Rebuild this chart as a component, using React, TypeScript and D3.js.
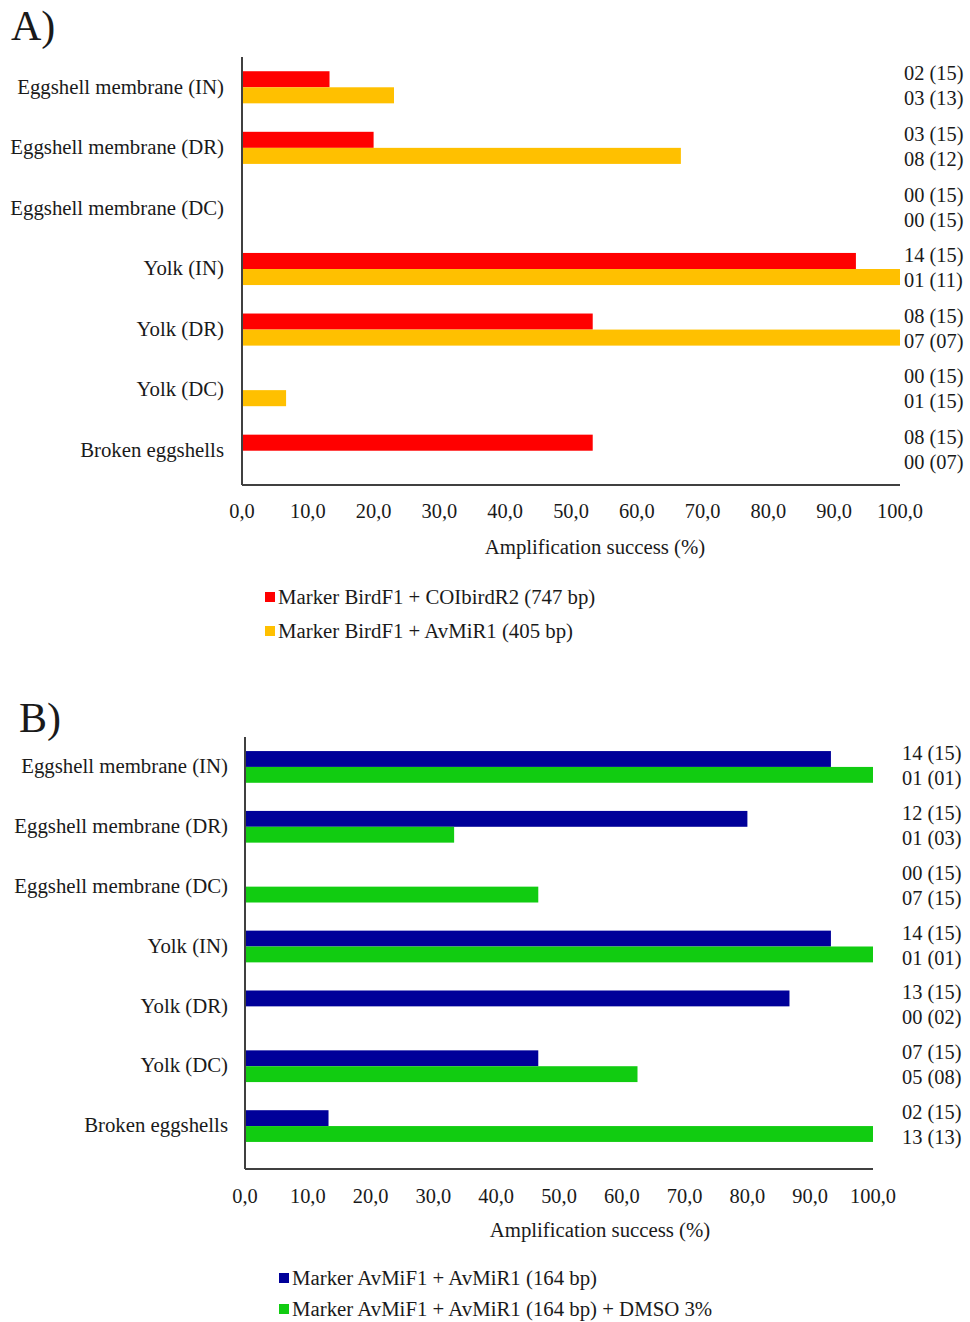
import React from "react";
import * as d3 from "d3";

// Sample types shared by both panels
const categories = [
  "Eggshell membrane (IN)",
  "Eggshell membrane (DR)",
  "Eggshell membrane (DC)",
  "Yolk (IN)",
  "Yolk (DR)",
  "Yolk (DC)",
  "Broken eggshells",
];

const xTicks = [0, 10, 20, 30, 40, 50, 60, 70, 80, 90, 100];

// Panel A: amplification success (%)
const birdF1COIbirdR2 = [13.3, 20.0, 0, 93.3, 53.3, 0, 53.3];
const birdF1AvMiR1 = [23.1, 66.7, 0, 100, 100, 6.7, 0];
const countsA1 = ["02 (15)", "03 (15)", "00 (15)", "14 (15)", "08 (15)", "00 (15)", "08 (15)"];
const countsA2 = ["03 (13)", "08 (12)", "00 (15)", "01 (11)", "07 (07)", "01 (15)", "00 (07)"];
const seriesNamesA = ["Marker BirdF1 + COIbirdR2 (747 bp)", "Marker BirdF1 + AvMiR1 (405 bp)"];

// Panel B: amplification success (%)
const avMiF1AvMiR1 = [93.3, 80.0, 0, 93.3, 86.7, 46.7, 13.3];
const avMiF1AvMiR1Dmso = [100, 33.3, 46.7, 100, 0, 62.5, 100];
const countsB1 = ["14 (15)", "12 (15)", "00 (15)", "14 (15)", "13 (15)", "07 (15)", "02 (15)"];
const countsB2 = ["01 (01)", "01 (03)", "07 (15)", "01 (01)", "00 (02)", "05 (08)", "13 (13)"];
const seriesNamesB = ["Marker AvMiF1 + AvMiR1 (164 bp)", "Marker AvMiF1 + AvMiR1 (164 bp) + DMSO 3%"];

const FONT = "'Liberation Serif', 'Times New Roman', serif";
const TEXT = "#1a1a1a";
const AXIS = "#404040";
const LABEL_SIZE = 20.8;
const TICK_SIZE = 20.4;

type PanelProps = {
  letter: string;
  letterX: number;
  letterY: number;
  x0: number;
  x1: number;
  top: number;
  bandBottom: number;
  axisBottom: number;
  catLabelX: number;
  countX: number;
  series: number[][];
  counts: string[][];
  colors: string[];
  names: string[];
  tickY: number;
  titleX: number;
  titleY: number;
  legendX: number;
  legendY: number[];
};

function Panel(p: PanelProps) {
  const x = d3.scaleLinear().domain([0, 100]).range([p.x0, p.x1]);
  const y = d3
    .scaleBand<string>()
    .domain(categories)
    .range([p.top, p.bandBottom])
    .paddingInner(0.47)
    .paddingOuter(0.235);
  const sub = d3
    .scaleBand<number>()
    .domain(p.series.map((_, i) => i))
    .range([0, y.bandwidth()]);
  const fmt = (v: number) => d3.format(".1f")(v).replace(".", ",");

  return (
    <g fontFamily={FONT} fill={TEXT}>
      <text x={p.letterX} y={p.letterY} fontSize={42}>
        {p.letter}
      </text>

      {/* bars */}
      {p.series.map((vals, si) =>
        vals.map((v, ci) =>
          v > 0 ? (
            <rect
              key={`b${si}-${ci}`}
              x={x(0)}
              y={(y(categories[ci]) as number) + (sub(si) as number)}
              width={x(v) - x(0)}
              height={sub.bandwidth()}
              fill={p.colors[si]}
            />
          ) : null
        )
      )}

      {/* axes */}
      <line x1={p.x0} x2={p.x0} y1={p.top} y2={p.axisBottom} stroke={AXIS} strokeWidth={2} />
      <line x1={p.x0} x2={p.x1} y1={p.axisBottom} y2={p.axisBottom} stroke={AXIS} strokeWidth={2} />

      {/* category labels */}
      {categories.map((c) => (
        <text
          key={c}
          x={p.catLabelX}
          y={(y(c) as number) + y.bandwidth() / 2 - 1}
          dy="0.35em"
          textAnchor="end"
          fontSize={LABEL_SIZE}
        >
          {c}
        </text>
      ))}

      {/* sample counts */}
      {categories.map((c, ci) => {
        const cy = (y(c) as number) + y.bandwidth() / 2;
        return (
          <g key={`n${ci}`} fontSize={TICK_SIZE}>
            <text x={p.countX} y={cy - 14} dy="0.35em">
              {p.counts[0][ci]}
            </text>
            <text x={p.countX} y={cy + 11} dy="0.35em">
              {p.counts[1][ci]}
            </text>
          </g>
        );
      })}

      {/* tick labels */}
      {xTicks.map((t) => (
        <text key={t} x={x(t)} y={p.tickY} dy="0.35em" textAnchor="middle" fontSize={TICK_SIZE}>
          {fmt(t)}
        </text>
      ))}

      <text x={p.titleX} y={p.titleY} dy="0.35em" textAnchor="middle" fontSize={LABEL_SIZE}>
        Amplification success (%)
      </text>

      {/* legend */}
      {p.names.map((n, i) => (
        <g key={n}>
          <rect x={p.legendX} y={p.legendY[i] - 5} width={10} height={10} fill={p.colors[i]} />
          <text x={p.legendX + 13} y={p.legendY[i]} dy="0.35em" fontSize={LABEL_SIZE}>
            {n}
          </text>
        </g>
      ))}
    </g>
  );
}

export default function App() {
  return (
    <svg
      width={970}
      height={1322}
      style={{ position: "absolute", left: 0, top: 0, background: "#fff" }}
    >
      <rect width={970} height={1322} fill="#fff" />
      <Panel
        letter="A)"
        letterX={11}
        letterY={40}
        x0={242}
        x1={900}
        top={57}
        bandBottom={481}
        axisBottom={485}
        catLabelX={224}
        countX={904}
        series={[birdF1COIbirdR2, birdF1AvMiR1]}
        counts={[countsA1, countsA2]}
        colors={["#ff0000", "#ffc000"]}
        names={seriesNamesA}
        tickY={511}
        titleX={595}
        titleY={547}
        legendX={265}
        legendY={[597, 631]}
      />
      <Panel
        letter="B)"
        letterX={19}
        letterY={732}
        x0={245}
        x1={873}
        top={737}
        bandBottom={1156}
        axisBottom={1169}
        catLabelX={228}
        countX={902}
        series={[avMiF1AvMiR1, avMiF1AvMiR1Dmso]}
        counts={[countsB1, countsB2]}
        colors={["#000099", "#11cc11"]}
        names={seriesNamesB}
        tickY={1196}
        titleX={600}
        titleY={1230}
        legendX={279}
        legendY={[1278, 1309]}
      />
    </svg>
  );
}
